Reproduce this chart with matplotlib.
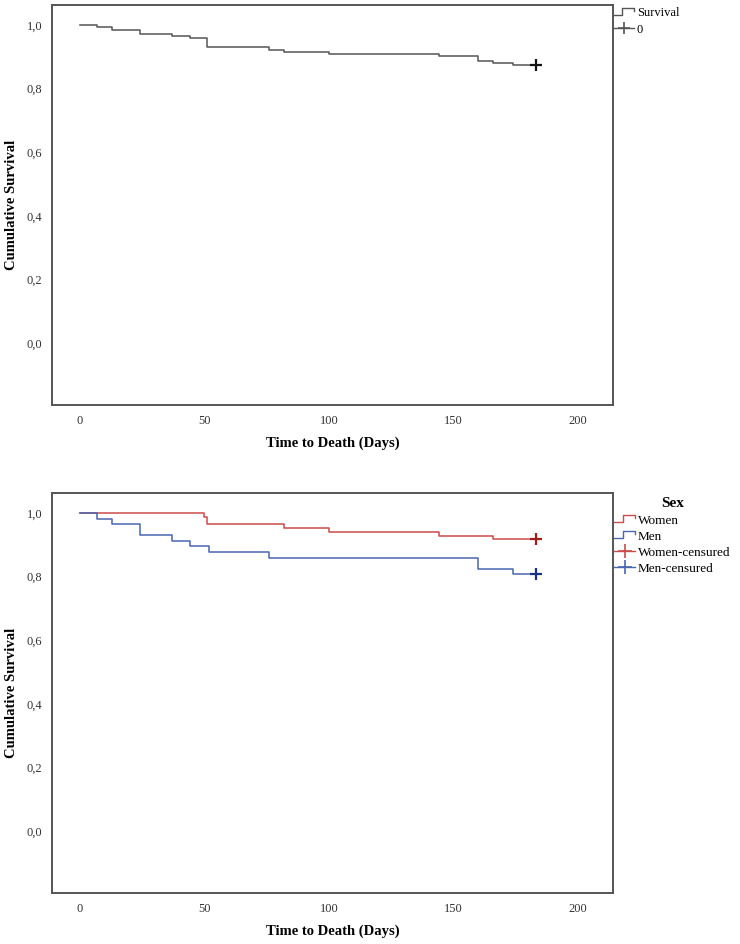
import matplotlib
matplotlib.use("Agg")
import matplotlib.pyplot as plt
from matplotlib.lines import Line2D
from matplotlib.legend_handler import HandlerBase
from matplotlib.ticker import FuncFormatter

# ---- data ----
overall_t = [0, 7, 13, 24, 37, 44, 51, 76, 82, 100, 144, 160, 166, 174, 183]
overall_s = [1.0, 0.993, 0.985, 0.972, 0.965, 0.958, 0.930, 0.923, 0.916, 0.910,
             0.902, 0.887, 0.881, 0.875, 0.875]
women_t = [0, 50, 51, 82, 100, 144, 166, 183]
women_s = [1.0, 0.988, 0.964, 0.953, 0.941, 0.929, 0.918, 0.918]
men_t = [0, 7, 13, 24, 37, 44, 52, 76, 160, 174, 183]
men_s = [1.0, 0.982, 0.964, 0.930, 0.913, 0.895, 0.877, 0.860, 0.825, 0.807, 0.807]
x_ticks = [0, 50, 100, 150, 200]
y_ticks = [0.0, 0.2, 0.4, 0.6, 0.8, 1.0]

plt.rcParams['font.family'] = ['Liberation Serif', 'DejaVu Serif']

GRAY = '#555555'
RED = '#cc4b4b'
RED_D = '#a01c1c'
BLUE = '#4a66b0'
BLUE_D = '#1c2f80'


class StepHandler(HandlerBase):
    def create_artists(self, legend, orig_handle, xdescent, ydescent,
                       width, height, fontsize, trans):
        lo = -ydescent + 0.15 * height
        hi = -ydescent + 0.95 * height
        w = width
        xs = [-xdescent, -xdescent + 0.4 * w, -xdescent + 0.4 * w,
              -xdescent + w, -xdescent + w]
        ys = [lo, lo, hi, hi, hi - 0.35 * height]
        ln = Line2D(xs, ys, color=orig_handle.get_color(), lw=1.0, transform=trans)
        return [ln]


class StepKey:
    def __init__(self, color):
        self.color = color

    def get_color(self):
        return self.color


def style_axes(ax):
    ax.set_xlim(-11.2, 214)
    ax.set_ylim(-0.195, 1.063)
    ax.set_xticks(x_ticks)
    ax.set_yticks(y_ticks)
    ax.yaxis.set_major_formatter(FuncFormatter(lambda v, p: f"{v:.1f}".replace('.', ',')))
    ax.tick_params(length=0, labelsize=9, colors='#333333', pad=7)
    for sp in ax.spines.values():
        sp.set_color(GRAY)
        sp.set_linewidth(1.4)
    ax.set_xlabel('Time to Death (Days)', fontsize=10.5, fontweight='bold', labelpad=7)
    ax.set_ylabel('Cumulative Survival', fontsize=10.5, fontweight='bold', labelpad=6)


fig = plt.figure(figsize=(7.4, 9.44), dpi=100)
W, H = 740, 944
ax1 = fig.add_axes([52 / W, 1 - 405 / H, 561 / W, 400 / H])
ax2 = fig.add_axes([52 / W, 1 - 893 / H, 561 / W, 400 / H])

# top panel
ax1.step(overall_t, overall_s, where='post', color=GRAY, lw=1.1)
ax1.plot(overall_t[-1:], overall_s[-1:], ls='none', marker='+', ms=8, mew=1.6, color='#111111')
style_axes(ax1)

h1 = [StepKey(GRAY), Line2D([], [], color=GRAY, lw=1.0, marker='+', ms=9, mew=1.2)]
leg1 = fig.legend(h1, ['Survival', '0'], loc='upper left',
                  bbox_to_anchor=(613 / W, 1 - 6 / H), frameon=False, fontsize=9,
                  handlelength=1.6, handletextpad=0.2, labelspacing=0.35,
                  borderaxespad=0, borderpad=0.1, numpoints=1,
                  handler_map={StepKey: StepHandler()})

# bottom panel
ax2.step(women_t, women_s, where='post', color=RED, lw=1.1)
ax2.step(men_t, men_s, where='post', color=BLUE, lw=1.1)
ax2.plot(women_t[-1:], women_s[-1:], ls='none', marker='+', ms=8, mew=1.6, color=RED_D)
ax2.plot(men_t[-1:], men_s[-1:], ls='none', marker='+', ms=8, mew=1.6, color=BLUE_D)
style_axes(ax2)

h2 = [StepKey(RED), StepKey(BLUE),
      Line2D([], [], color=RED, lw=1.0, marker='+', ms=10, mew=1.2),
      Line2D([], [], color=BLUE, lw=1.0, marker='+', ms=10, mew=1.2)]
leg2 = fig.legend(h2, ['Women', 'Men', 'Women-censured', 'Men-censured'],
                  loc='upper left', bbox_to_anchor=(613 / W, 1 - 496 / H),
                  frameon=False, fontsize=9.5, title='Sex',
                  title_fontproperties={'weight': 'bold', 'size': 11},
                  handlelength=1.6, handletextpad=0.2, labelspacing=0.3,
                  borderaxespad=0, borderpad=0.1, numpoints=1,
                  handler_map={StepKey: StepHandler()})

fig.savefig('out.png', dpi=100)
